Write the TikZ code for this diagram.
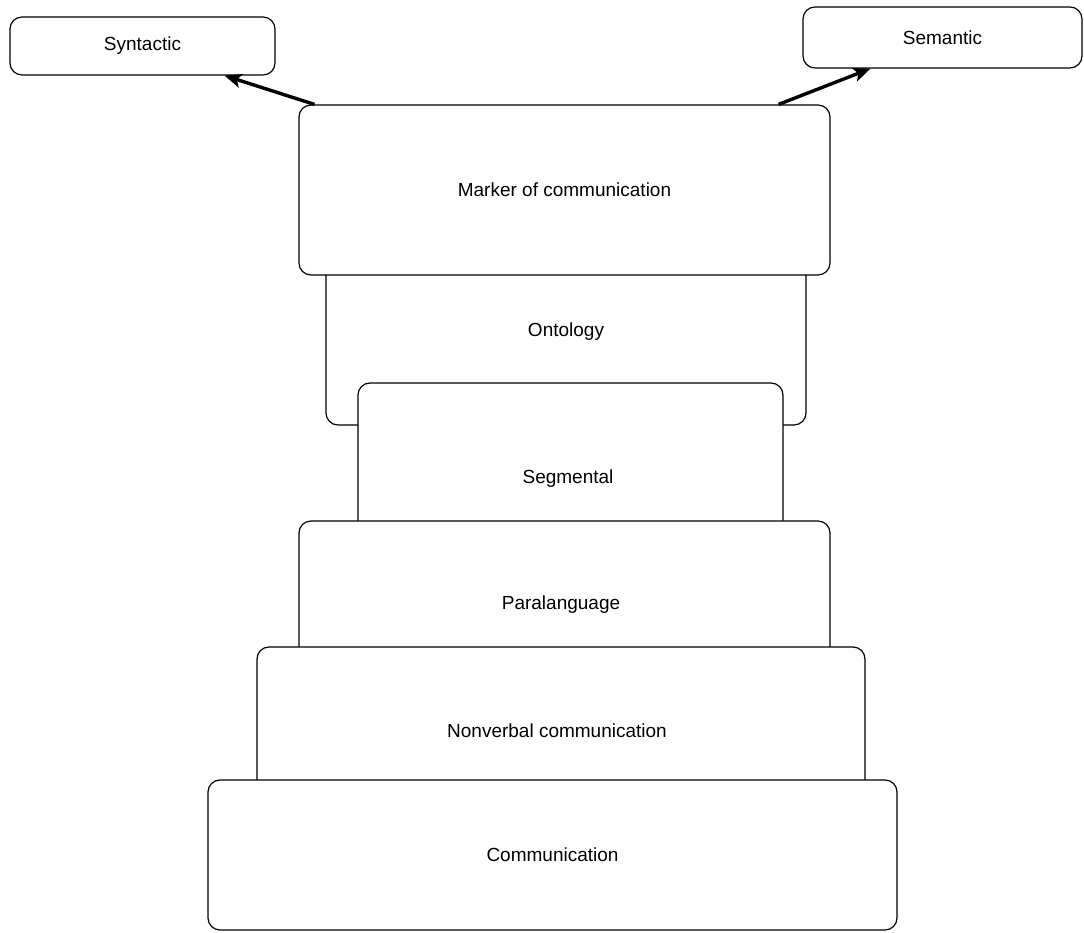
\documentclass[tikz,border=0pt]{standalone}
\usepackage{fontspec}
\setmainfont{Liberation Sans}
\usetikzlibrary{arrows.meta}

\tikzset{
  layer/.style={draw=black, fill=white, line width=1.2pt, rounded corners=12pt,
    rectangle, inner sep=0pt, font=\fontsize{19}{23}\selectfont},
  tag/.style={font=\fontsize{19}{23}\selectfont},
  link/.style={line width=3.4pt, -{Stealth[length=17pt, width=14pt, inset=4pt]}}
}

\begin{document}
\begin{tikzpicture}[x=1pt, y=1pt]

  \useasboundingbox (0,0) rectangle (1084,933);

  % top labels
  \node[layer, minimum width=265pt, minimum height=58pt] (syn) at (142.5,887) {Syntactic};
  \node[layer, minimum width=279pt, minimum height=61pt] (sem) at (942.5,895.5) {Semantic};

  % the stack, drawn from the back to the front
  \node[layer, minimum width=480pt, minimum height=180pt] (onto) at (566,598) {};
  \node[tag] (ontotext) at (566,601) {Ontology};
  \node[layer, minimum width=531pt, minimum height=170pt] (marker) at (564.5,743) {Marker of communication};
  \node[layer, minimum width=425pt, minimum height=160pt] (seg) at (570.5,470) {};
  \node[tag] (segtext) at (568,454) {Segmental};
  \node[layer, minimum width=531pt, minimum height=140pt] (para) at (564.5,342) {};
  \node[tag] (paratext) at (561,328) {Paralanguage};
  \node[layer, minimum width=608pt, minimum height=150pt] (nonv) at (561,211) {};
  \node[tag] (nonvtext) at (557,202) {Nonverbal communication};
  \node[layer, minimum width=689pt, minimum height=150pt] (comm) at (552.5,78) {Communication};

  \draw[link] ([xshift=16pt]marker.north west) -- ([xshift=82pt]syn.south);
  \draw[link] ([xshift=-52pt]marker.north east) -- ([xshift=-72pt]sem.south);

\end{tikzpicture}
\end{document}
